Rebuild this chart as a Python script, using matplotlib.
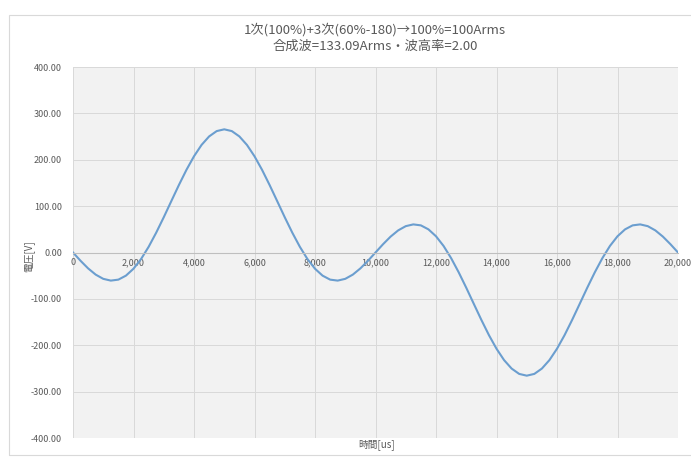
import matplotlib
matplotlib.use('Agg')
import matplotlib.pyplot as plt
from matplotlib.patches import Rectangle

plt.rcParams['font.family'] = ['Noto Sans CJK JP', 'DejaVu Sans']

# 時間[us] (250us step)
t_us = [0, 250, 500, 750, 1000, 1250, 1500, 1750, 2000, 2250,
        2500, 2750, 3000, 3250, 3500, 3750, 4000, 4250, 4500, 4750,
        5000, 5250, 5500, 5750, 6000, 6250, 6500, 6750, 7000, 7250,
        7500, 7750, 8000, 8250, 8500, 8750, 9000, 9250, 9500, 9750,
        10000, 10250, 10500, 10750, 11000, 11250, 11500, 11750, 12000, 12250,
        12500, 12750, 13000, 13250, 13500, 13750, 14000, 14250, 14500, 14750,
        15000, 15250, 15500, 15750, 16000, 16250, 16500, 16750, 17000, 17250,
        17500, 17750, 18000, 18250, 18500, 18750, 19000, 19250, 19500, 19750,
        20000]

# 電圧[V]
v = [0.0, -17.9, -34.3, -47.7, -56.8, -60.6, -58.5, -49.9, -35.0, -14.1,
     12.2, 42.7, 76.0, 110.8, 145.4, 178.2, 207.5, 232.0, 250.3, 261.8,
     265.6, 261.8, 250.3, 232.0, 207.5, 178.2, 145.4, 110.8, 76.0, 42.7,
     12.2, -14.1, -35.0, -49.9, -58.5, -60.6, -56.8, -47.7, -34.3, -17.9,
     0.0, 17.9, 34.3, 47.7, 56.8, 60.6, 58.5, 49.9, 35.0, 14.1,
     -12.2, -42.7, -76.0, -110.8, -145.4, -178.2, -207.5, -232.0, -250.3, -261.8,
     -265.6, -261.8, -250.3, -232.0, -207.5, -178.2, -145.4, -110.8, -76.0, -42.7,
     -12.2, 14.1, 35.0, 49.9, 58.5, 60.6, 56.8, 47.7, 34.3, 17.9,
     0.0]

x_ticks = list(range(0, 20001, 2000))
y_ticks = list(range(-400, 401, 100))

title = '1次(100%)+3次(60%-180)→100%=100Arms\n合成波=133.09Arms・波高率=2.00'

txt = '#595959'
grid = '#d9d9d9'

fig = plt.figure(figsize=(6.91, 4.59), dpi=100)
fig.patches.append(Rectangle((9 / 691, 4 / 459), 1.0, 440 / 459, transform=fig.transFigure,
                             fill=False, edgecolor=grid, linewidth=0.8))

ax = fig.add_axes([73 / 691, 21 / 459, 605 / 691, 371 / 459])
ax.set_facecolor('#f2f2f2')
ax.plot(t_us, v, color='#6b9ecf', linewidth=1.5)

ax.set_xlim(0, 20000)
ax.set_ylim(-400, 400)
ax.set_xticks(x_ticks)
ax.set_yticks(y_ticks)
ax.set_xticklabels([f'{x:,}' for x in x_ticks])
ax.set_yticklabels([f'{y:.2f}' for y in y_ticks])
ax.grid(True, color=grid, linewidth=0.7)
ax.set_axisbelow(True)

for s in ['top', 'right', 'left']:
    ax.spines[s].set_visible(False)
ax.spines['bottom'].set_position(('data', 0))
ax.spines['bottom'].set_color('#bfbfbf')
ax.spines['bottom'].set_linewidth(0.8)
ax.tick_params(axis='both', length=0, labelsize=6.5, labelcolor=txt)
ax.tick_params(axis='x', pad=4)
ax.tick_params(axis='y', pad=8)

# 軸ラベル
fig.text(29 / 691, 1 - 256 / 459, '電圧[V]', fontsize=7, color=txt, rotation=90,
         ha='center', va='center')
fig.text(377 / 691, 1 - 445 / 459, '時間[us]', fontsize=7, color=txt, ha='center', va='center')
fig.text(375 / 691, 1 - 38 / 459, title, fontsize=9.5, color=txt, ha='center', va='center',
         linespacing=1.3)

fig.savefig('out.png', dpi=100)
